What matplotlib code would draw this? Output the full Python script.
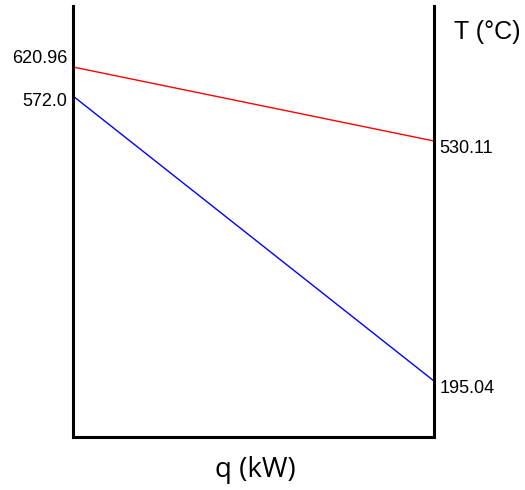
import numpy as np
import matplotlib
matplotlib.use('Agg')
from matplotlib import pyplot as plt

# end temperatures of the two streams (left = q start, right = q end)
q = [0, 1]
hot_T = [620.96, 530.11]
cold_T = [572.0, 195.04]

# the original is a schematic, so the temperature axis is not linear:
# map each labelled temperature to the height it sits at in the drawing
temps = [0, 195.04, 530.11, 572.0, 620.96, 700]
heights = [0, 56, 296, 341, 370, 431]

def fwd(t):
    return np.interp(t, temps, heights)

def inv(h):
    return np.interp(h, heights, temps)

fig = plt.figure(figsize=(5.25, 4.9), dpi=100)
ax = fig.add_axes([73/525, 1 - 437/490, (434 - 73)/525, (437 - 6)/490])
ax.set_yscale('function', functions=(fwd, inv))

ax.plot(q, hot_T, color='#ff0000', lw=1.0)
ax.plot(q, cold_T, color='#0000ff', lw=1.0)

ax.set_xlim(0, 1)
ax.set_ylim(0, 700)
ax.set_xticks([])
ax.set_yticks([])
ax.spines['top'].set_visible(False)
for s in ['left', 'right', 'bottom']:
    ax.spines[s].set_linewidth(2.2)

numfont = dict(family='Liberation Sans', fontsize=13)

# left end labels
ax.annotate('%.2f' % hot_T[0], (0, hot_T[0]), xytext=(-4, 0), textcoords='offset points',
            ha='right', va='bottom', **numfont)
ax.annotate('%.1f' % cold_T[0], (0, cold_T[0]), xytext=(-4, -4), textcoords='offset points',
            ha='right', va='center', **numfont)
# right end labels
ax.annotate('%.2f' % hot_T[1], (1, hot_T[1]), xytext=(4, 1), textcoords='offset points',
            ha='left', va='top', **numfont)
ax.annotate('%.2f' % cold_T[1], (1, cold_T[1]), xytext=(4, 1), textcoords='offset points',
            ha='left', va='top', **numfont)

fig.text(454/525, 1 - 32/490, 'T (°C)', family='Liberation Sans', fontsize=18,
         ha='left', va='center')
fig.text(255/525, 1 - 470/490, 'q (kW)', family='Open Sans', fontsize=20,
         ha='center', va='center')

fig.savefig('out.png', dpi=100)
